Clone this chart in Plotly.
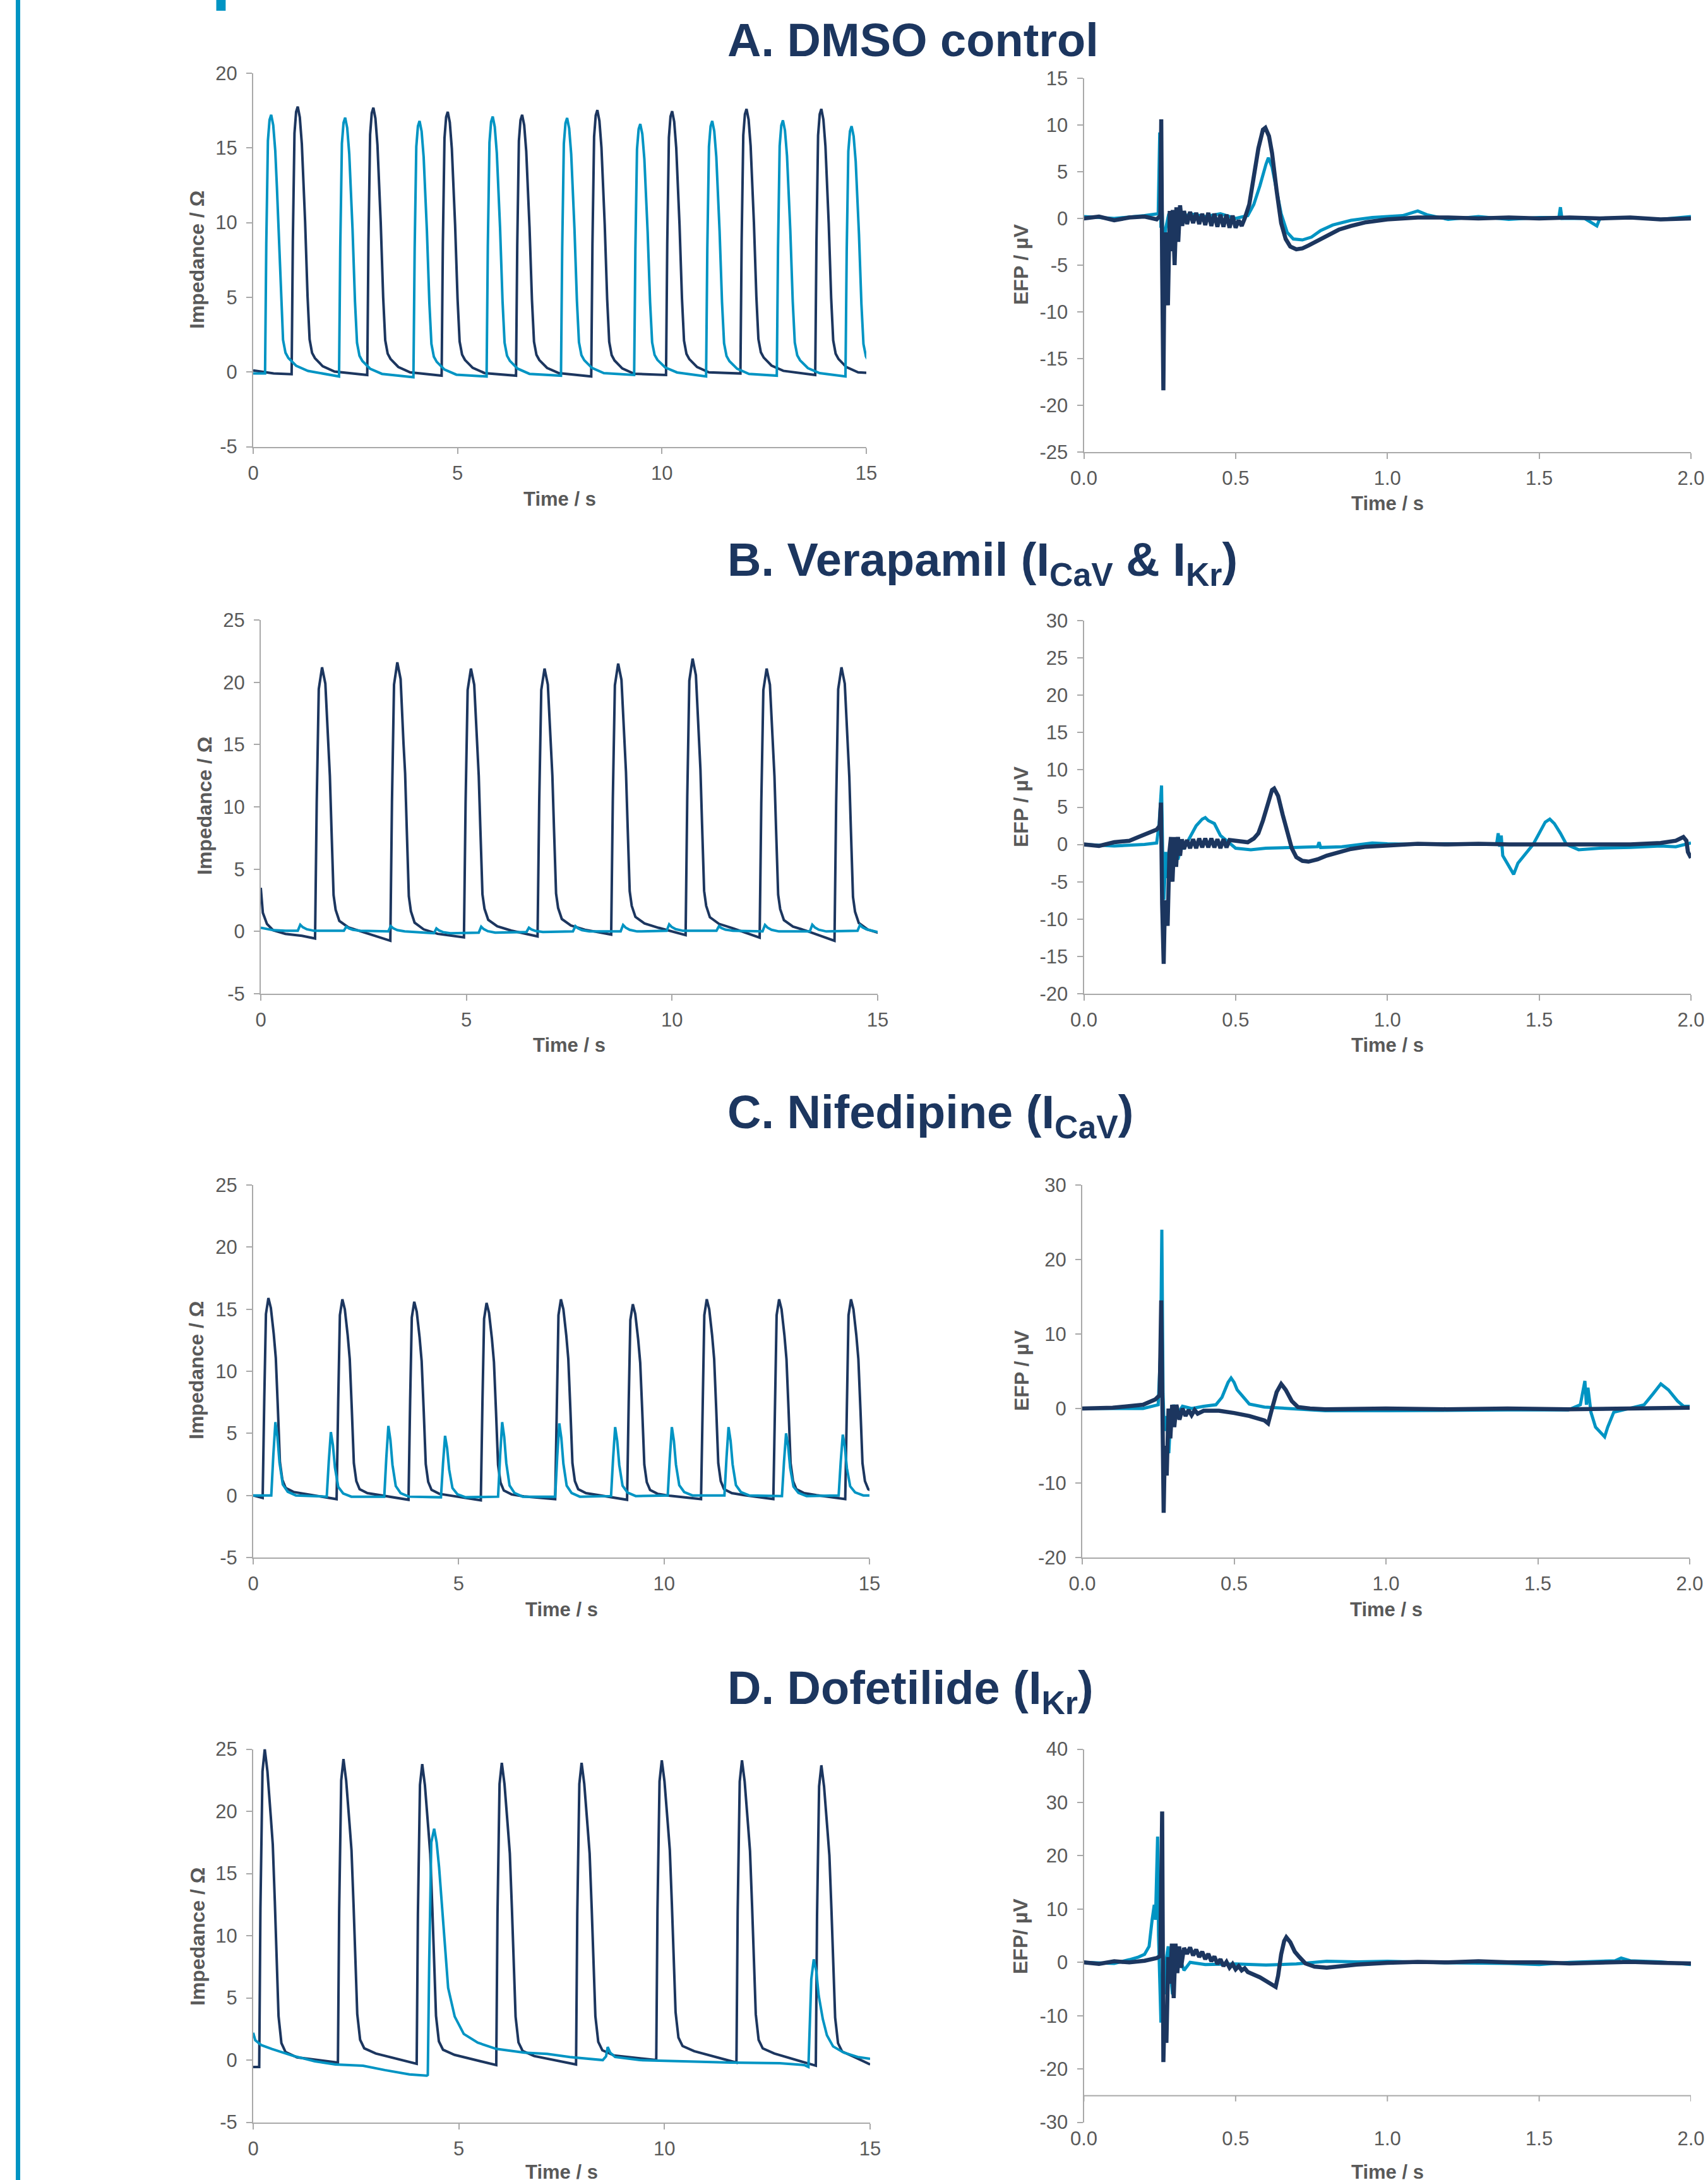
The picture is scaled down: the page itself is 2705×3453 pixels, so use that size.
import plotly.graph_objects as go

W, H = 2705, 3453
NAVY = "#1c365f"
CYAN = "#0094c3"
GREY = "#595959"
AXC = "#a9a9a9"
FONT = "Liberation Sans, Arial, sans-serif"

# ---------------- tick values / labels ----------------
imp_x_ticks = [0, 5, 10, 15]
imp_x_labels = ["0", "5", "10", "15"]
efp_x_ticks = [0, 0.5, 1.0, 1.5, 2.0]
efp_x_labels = ["0.0", "0.5", "1.0", "1.5", "2.0"]
a_imp_y_ticks = [-5, 0, 5, 10, 15, 20]
a_efp_y_ticks = [-25, -20, -15, -10, -5, 0, 5, 10, 15]
b_imp_y_ticks = [-5, 0, 5, 10, 15, 20, 25]
b_efp_y_ticks = [-20, -15, -10, -5, 0, 5, 10, 15, 20, 25, 30]
c_imp_y_ticks = [-5, 0, 5, 10, 15, 20, 25]
c_efp_y_ticks = [-20, -10, 0, 10, 20, 30]
d_imp_y_ticks = [-5, 0, 5, 10, 15, 20, 25]
d_efp_y_ticks = [-30, -20, -10, 0, 10, 20, 30, 40]
d_efp_xaxis_level = -25

# ---------------- panel A : DMSO impedance ----------------
a_beat_dt = [0, 0.03, 0.07, 0.11, 0.15, 0.20, 0.25, 0.29, 0.33, 0.39, 0.44, 0.50, 0.57, 0.76, 1.05]
a_beat_fr = [0, 0.50, 0.90, 0.98, 1.00, 0.96, 0.86, 0.72, 0.57, 0.29, 0.13, 0.08, 0.06, 0.03, 0.01]
a_dark_on = [0.94, 2.79, 4.61, 6.43, 8.27, 10.10, 11.92, 13.75]
a_dark_pk = [17.77, 17.69, 17.42, 17.22, 17.53, 17.46, 17.61, 17.61]
a_dark_pre = [-0.15, -0.2, -0.25, -0.25, -0.3, -0.2, -0.1, -0.2]
a_dark_lead = [(0, 0.1), (0.5, -0.1)]
a_dark_trail = [(15.0, -0.05)]
a_cyan_on = [0.29, 2.10, 3.92, 5.71, 7.53, 9.32, 11.08, 12.81, 14.49]
a_cyan_pk = [17.22, 17.03, 16.8, 17.1, 17.0, 16.6, 16.8, 16.85, 16.45]
a_cyan_pre = [-0.1, -0.3, -0.35, -0.3, -0.25, -0.2, -0.3, -0.25, -0.3]
a_cyan_lead = [(0, -0.1)]
a_cyan_trail = []

# ---------------- panel A : DMSO EFP ----------------
a_efp_cyan = [(0, 0.2), (0.1, 0.0), (0.2, 0.3), (0.245, 0.5), (0.25, 9.2), (0.254, -1.0), (0.258, 0.8),
              (0.262, -3.5), (0.27, -1.0), (0.28, 0.5), (0.29, -0.5), (0.3, 0.5), (0.32, 0.0), (0.35, 0.5),
              (0.4, 0.2), (0.45, 0.5), (0.5, 0.0), (0.54, 0.3), (0.56, 1.5), (0.58, 3.5), (0.6, 5.8),
              (0.608, 6.5), (0.62, 5.5), (0.635, 3.0), (0.65, 0.5), (0.67, -1.5), (0.69, -2.2), (0.72, -2.3),
              (0.75, -2.0), (0.78, -1.3), (0.82, -0.7), (0.88, -0.2), (0.95, 0.1), (1.05, 0.3), (1.1, 0.8),
              (1.13, 0.4), (1.2, -0.1), (1.3, 0.2), (1.4, -0.1), (1.5, 0.1), (1.565, 0.1), (1.57, 1.2),
              (1.575, 0.0), (1.65, 0.0), (1.69, -0.8), (1.7, 0.0), (1.8, 0.1), (1.9, -0.1), (2.0, 0.2)]
a_efp_dark = [(0, 0.0), (0.05, 0.2), (0.1, -0.2), (0.15, 0.1), (0.2, 0.2), (0.24, -0.1), (0.252, 0.3),
              (0.255, 10.6), (0.258, -5.0), (0.262, -18.4), (0.266, -3.0), (0.27, -1.5), (0.277, -9.3),
              (0.283, 0.8), (0.288, -3.5), (0.293, 0.9), (0.299, -5.0), (0.305, 1.2), (0.311, -2.5),
              (0.317, 1.4), (0.324, -0.8), (0.33, 0.8), (0.34, -0.6), (0.35, 0.7), (0.36, -0.5), (0.37, 0.6),
              (0.38, -0.6), (0.39, 0.5), (0.40, -0.7), (0.41, 0.6), (0.42, -0.8), (0.43, 0.5), (0.44, -0.9),
              (0.45, 0.4), (0.46, -0.9), (0.47, 0.4), (0.48, -1.0), (0.49, 0.3), (0.50, -1.0), (0.51, -0.2),
              (0.52, -0.8), (0.53, 0.0), (0.545, 1.5), (0.56, 4.5), (0.575, 7.5), (0.59, 9.5), (0.598, 9.7),
              (0.61, 8.8), (0.62, 7.0), (0.635, 3.0), (0.65, -0.5), (0.665, -2.2), (0.68, -3.0), (0.70, -3.3),
              (0.72, -3.2), (0.74, -2.9), (0.77, -2.4), (0.8, -1.9), (0.84, -1.2), (0.88, -0.8), (0.93, -0.4),
              (1.0, -0.1), (1.1, 0.1), (1.2, 0.1), (1.3, 0.0), (1.4, 0.1), (1.5, 0.0), (1.6, 0.1), (1.7, 0.0),
              (1.8, 0.1), (1.9, -0.1), (2.0, 0.0)]

# ---------------- panel B : Verapamil impedance ----------------
b_beat_dt = [0, 0.04, 0.09, 0.17, 0.25, 0.32, 0.36, 0.40, 0.45, 0.50, 0.59, 0.81, 1.15]
b_beat_fr = [0, 0.50, 0.92, 1.00, 0.94, 0.71, 0.60, 0.40, 0.16, 0.106, 0.065, 0.041, 0.025]
b_dark_on = [1.32, 3.15, 4.94, 6.73, 8.52, 10.33, 12.13, 13.95]
b_dark_pk = [21.2, 21.6, 21.1, 21.1, 21.5, 21.9, 21.1, 21.2]
b_dark_pre = [-0.57, -0.75, -0.47, -0.4, -0.25, -0.3, -0.5, -0.75]
b_dark_lead = [(0, 3.5), (0.05, 1.5), (0.15, 0.6), (0.3, 0.1), (0.6, -0.2), (1.0, -0.35)]
b_dark_trail = []
b_bump_dt = [0, 0.06, 0.12, 0.22, 0.40]
b_bump_fr = [0, 1.0, 0.6, 0.25, 0.0]
b_cyan_on = [0.90, 2.02, 3.10, 4.21, 5.30, 6.46, 7.59, 8.75, 9.87, 11.08, 12.20, 13.35, 14.51]
b_cyan_pk = [0.54, 0.38, 0.42, 0.24, 0.38, 0.30, 0.42, 0.52, 0.57, 0.42, 0.52, 0.54, 0.52]
b_cyan_pre = [0.05, 0.05, 0.0, -0.15, -0.1, -0.05, 0.0, 0.0, 0.05, 0.05, 0.0, 0.0, 0.05]
b_cyan_lead = [(0, 0.3), (0.3, 0.1), (0.6, 0.05)]
b_cyan_trail = [(15.0, -0.05)]

# ---------------- panel B : Verapamil EFP ----------------
b_efp_cyan = [(0, 0.0), (0.1, -0.2), (0.2, 0.0), (0.24, 0.2), (0.248, 2.8), (0.256, 7.9), (0.26, -2.0),
              (0.264, -7.4), (0.27, -1.0), (0.276, -4.5), (0.284, -0.5), (0.29, -3.0), (0.30, -1.0),
              (0.31, -2.0), (0.32, -0.5), (0.33, -0.5), (0.35, 1.0), (0.37, 2.5), (0.39, 3.4), (0.40, 3.6),
              (0.41, 3.2), (0.43, 2.8), (0.45, 1.2), (0.48, 0.2), (0.5, -0.5), (0.55, -0.7), (0.6, -0.5),
              (0.7, -0.4), (0.77, -0.3), (0.775, 0.3), (0.78, -0.4), (0.85, -0.3), (0.9, 0.0), (0.95, 0.2),
              (1.0, 0.1), (1.1, 0.0), (1.2, 0.1), (1.3, 0.0), (1.36, 0.1), (1.365, 1.5), (1.37, -0.3),
              (1.375, 1.2), (1.38, -1.5), (1.40, -3.0), (1.416, -4.0), (1.43, -2.5), (1.45, -1.5),
              (1.48, 0.0), (1.5, 1.5), (1.52, 3.0), (1.535, 3.4), (1.55, 2.8), (1.57, 1.5), (1.59, 0.0),
              (1.63, -0.7), (1.7, -0.5), (1.8, -0.4), (1.9, -0.2), (1.95, -0.3), (2.0, 0.2)]
b_efp_dark = [(0, 0.0), (0.05, -0.2), (0.1, 0.3), (0.15, 0.5), (0.18, 1.0), (0.21, 1.5), (0.24, 2.0),
              (0.25, 2.5), (0.254, 5.6), (0.258, -8.0), (0.263, -16.0), (0.267, -8.0), (0.27, -7.5),
              (0.276, -10.9), (0.282, -1.0), (0.287, 1.0), (0.292, -5.0), (0.298, 1.0), (0.304, -3.0),
              (0.31, 1.0), (0.317, -1.5), (0.323, 0.7), (0.33, -0.6), (0.34, 0.6), (0.35, -0.5), (0.36, 0.7),
              (0.37, -0.5), (0.38, 0.8), (0.39, -0.4), (0.40, 0.8), (0.41, -0.4), (0.42, 0.8), (0.43, -0.4),
              (0.44, 0.7), (0.45, -0.5), (0.46, 0.7), (0.47, -0.4), (0.48, 0.6), (0.50, 0.5), (0.52, 0.4),
              (0.54, 0.3), (0.56, 0.8), (0.575, 1.5), (0.59, 3.2), (0.605, 5.5), (0.62, 7.3), (0.627, 7.5),
              (0.64, 6.5), (0.655, 4.0), (0.67, 1.5), (0.685, -0.5), (0.70, -1.7), (0.72, -2.2), (0.74, -2.3),
              (0.77, -2.0), (0.80, -1.5), (0.84, -1.0), (0.88, -0.6), (0.93, -0.3), (1.0, -0.1), (1.1, 0.1),
              (1.2, 0.0), (1.3, 0.1), (1.4, 0.0), (1.5, 0.0), (1.6, -0.1), (1.7, 0.0), (1.8, 0.0), (1.9, 0.2),
              (1.95, 0.5), (1.975, 1.0), (1.985, 0.5), (1.99, -1.0), (2.0, -1.8)]

# ---------------- panel C : Nifedipine impedance ----------------
c_beat_dt = [0, 0.04, 0.08, 0.14, 0.20, 0.27, 0.32, 0.37, 0.42, 0.48, 0.56, 0.75, 1.05]
c_beat_fr = [0, 0.50, 0.92, 1.00, 0.95, 0.82, 0.70, 0.45, 0.18, 0.09, 0.05, 0.03, 0.02]
c_dark_on = [0.23, 2.03, 3.78, 5.54, 7.35, 9.10, 10.90, 12.66, 14.41]
c_dark_pk = [15.9, 15.8, 15.6, 15.5, 15.8, 15.4, 15.8, 15.8, 15.8]
c_dark_pre = [-0.2, -0.3, -0.35, -0.4, -0.3, -0.35, -0.3, -0.3, -0.3]
c_dark_lead = [(0, 0.0)]
c_dark_trail = []
c_spike_dt = [0, 0.05, 0.10, 0.15, 0.20, 0.28, 0.40, 0.60]
c_spike_fr = [0, 0.55, 1.0, 0.8, 0.45, 0.15, 0.05, 0.0]
c_cyan_on = [0.44, 1.79, 3.19, 4.57, 5.96, 7.35, 8.71, 10.09, 11.47, 12.87, 14.25]
c_cyan_pk = [5.9, 5.1, 5.6, 4.8, 5.9, 5.8, 5.5, 5.5, 5.5, 5.0, 4.9]
c_cyan_pre = [0.0, -0.1, -0.1, -0.15, -0.1, -0.1, -0.05, 0.0, 0.0, -0.05, 0.0]
c_cyan_lead = [(0, 0.0)]
c_cyan_trail = [(15.0, 0.0)]

# ---------------- panel C : Nifedipine EFP ----------------
c_efp_cyan = [(0, 0.0), (0.2, 0.0), (0.25, 0.5), (0.258, 8.0), (0.262, 24.0), (0.266, 2.0), (0.27, -3.0),
              (0.278, -1.0), (0.285, -6.0), (0.29, -2.0), (0.3, 0.5), (0.31, -1.0), (0.33, 0.3), (0.36, 0.0),
              (0.4, 0.3), (0.44, 0.5), (0.46, 1.5), (0.48, 3.5), (0.49, 4.1), (0.5, 3.5), (0.51, 2.5),
              (0.53, 1.5), (0.55, 0.6), (0.6, 0.2), (0.7, 0.0), (0.8, -0.3), (1.0, -0.3), (1.2, -0.2),
              (1.4, -0.2), (1.6, -0.2), (1.64, 0.5), (1.655, 3.7), (1.66, 0.5), (1.665, 2.8), (1.675, -0.5),
              (1.69, -2.5), (1.72, -3.8), (1.73, -2.5), (1.75, -0.5), (1.78, -0.2), (1.85, 0.5), (1.88, 2.0),
              (1.905, 3.3), (1.93, 2.5), (1.96, 1.0), (1.98, 0.3), (2.0, 0.3)]
c_efp_dark = [(0, 0.0), (0.1, 0.1), (0.2, 0.5), (0.24, 1.2), (0.255, 1.8), (0.26, 14.5), (0.264, 0.0),
              (0.268, -14.0), (0.272, -5.0), (0.278, -9.0), (0.284, 0.0), (0.29, -4.0), (0.296, 0.5),
              (0.303, -2.5), (0.31, 0.5), (0.32, -1.5), (0.33, 0.0), (0.34, -1.0), (0.35, -0.2), (0.36, -0.9),
              (0.37, -0.2), (0.38, -0.7), (0.4, -0.3), (0.45, -0.3),
              (0.5, -0.6), (0.55, -1.0), (0.6, -1.6), (0.612, -2.0), (0.625, 0.0), (0.64, 2.2), (0.655, 3.3),
              (0.67, 2.5), (0.69, 1.0), (0.71, 0.2), (0.75, 0.0), (0.8, -0.1), (1.0, 0.0), (1.2, -0.1),
              (1.4, 0.0), (1.6, -0.1), (1.8, 0.0), (2.0, 0.1)]

# ---------------- panel D : Dofetilide impedance ----------------
d_beat_dt = [0, 0.03, 0.08, 0.135, 0.20, 0.28, 0.33, 0.38, 0.43, 0.47, 0.54, 0.64, 0.92]
d_beat_fr = [0, 0.50, 0.93, 1.00, 0.93, 0.79, 0.70, 0.52, 0.34, 0.16, 0.075, 0.047, 0.03]
d_dark_on = [0.146, 2.06, 3.975, 5.91, 7.85, 9.80, 11.75, 13.68]
d_dark_pk = [25.0, 24.2, 23.8, 23.9, 23.9, 24.1, 24.1, 23.7]
d_dark_pre = [-0.55, -0.2, -0.3, -0.4, -0.35, 0.0, -0.2, -0.45]
d_dark_lead = [(0, -0.55)]
d_dark_trail = [(15.0, -0.35)]
d_cyan = [(0, 2.2), (0.05, 1.6), (0.2, 1.2), (0.45, 0.9), (0.96, 0.35), (1.5, -0.1), (2.0, -0.35),
          (2.67, -0.45), (3.2, -0.8), (3.8, -1.15), (4.22, -1.25), (4.245, -1.2), (4.28, 8.0), (4.33, 17.5),
          (4.40, 18.6), (4.46, 17.5), (4.52, 15.5), (4.63, 10.4), (4.74, 5.8), (4.9, 3.5), (5.12, 2.1),
          (5.46, 1.4), (5.91, 0.9), (6.59, 0.6), (7.15, 0.5), (7.7, 0.25), (8.27, 0.1), (8.5, 0.0),
          (8.58, 0.3), (8.62, 1.05), (8.68, 0.6), (8.8, 0.25), (9.4, 0.0), (10.5, -0.1), (11.6, -0.2),
          (12.8, -0.25), (13.4, -0.4), (13.5, -0.55), (13.53, 2.0), (13.57, 6.5), (13.63, 8.1),
          (13.69, 7.2), (13.75, 5.2), (13.85, 3.3), (13.95, 2.0), (14.1, 1.1), (14.36, 0.6), (14.7, 0.25),
          (15.0, 0.1)]

# ---------------- panel D : Dofetilide EFP ----------------
d_efp_cyan = [(0, 0.0), (0.1, -0.2), (0.15, 0.5), (0.18, 1.0), (0.2, 1.5), (0.215, 3.0), (0.225, 8.0),
              (0.232, 10.8), (0.236, 8.0), (0.24, 18.0), (0.243, 23.6), (0.246, 5.0), (0.25, -7.0),
              (0.254, -11.3), (0.258, -3.0), (0.265, -6.0), (0.27, 0.0), (0.278, 3.0), (0.285, -2.0),
              (0.292, -6.0), (0.298, 2.0), (0.305, -1.5), (0.315, 1.0), (0.33, -1.5), (0.35, 0.0),
              (0.4, -0.4), (0.5, -0.3), (0.6, -0.5), (0.7, -0.3), (0.8, 0.2), (0.9, 0.1), (1.0, 0.2),
              (1.2, -0.1), (1.4, -0.2), (1.5, -0.4), (1.6, 0.0), (1.75, 0.3), (1.77, 0.8), (1.8, 0.3),
              (1.9, 0.1), (2.0, -0.4)]
d_efp_dark = [(0, 0.0), (0.05, -0.3), (0.1, 0.2), (0.15, 0.0), (0.2, 0.3), (0.24, 0.8), (0.252, 1.2),
              (0.258, 28.3), (0.262, -18.7), (0.266, -9.0), (0.272, -15.1), (0.278, 1.0), (0.284, -4.0),
              (0.29, 3.5), (0.296, -6.7), (0.302, 3.5), (0.308, -2.0), (0.314, 3.0), (0.32, -1.0),
              (0.33, 2.7), (0.34, 1.6), (0.35, 2.8), (0.36, 1.3), (0.37, 2.4), (0.38, 1.0), (0.39, 2.0),
              (0.40, 0.6), (0.41, 1.6), (0.42, 0.2), (0.43, 1.1), (0.44, -0.3), (0.45, 0.6), (0.46, -0.7),
              (0.47, 0.1), (0.48, -1.0), (0.49, -0.3), (0.50, -1.3), (0.51, -0.7), (0.52, -1.5), (0.53, -1.1),
              (0.54, -1.8), (0.56, -2.2),
              (0.58, -2.8), (0.60, -3.5), (0.62, -4.2), (0.632, -4.6), (0.64, -2.5), (0.65, 1.5), (0.66, 4.0),
              (0.667, 4.7), (0.68, 3.8), (0.695, 2.0), (0.71, 1.0), (0.73, -0.2), (0.76, -0.8), (0.8, -1.0),
              (0.85, -0.7), (0.9, -0.4), (1.0, -0.1), (1.1, 0.1), (1.2, 0.0), (1.3, 0.2), (1.4, 0.0),
              (1.5, 0.0), (1.6, -0.2), (1.7, 0.0), (1.8, 0.1), (1.9, -0.1), (2.0, -0.2)]

# ---------------- text ----------------
header_text = "<b>Compound assessment</b>"
panel_titles = ["<b>A. DMSO control</b>",
                "<b>B. Verapamil (I<sub>CaV</sub> &amp; I<sub>Kr</sub>)</b>",
                "<b>C. Nifedipine (I<sub>CaV</sub>)</b>",
                "<b>D. Dofetilide (I<sub>Kr</sub>)</b>"]
imp_title = "<b>Impedance / Ω</b>"
efp_titles = ["<b>EFP / µV</b>", "<b>EFP / µV</b>", "<b>EFP / µV</b>", "<b>EFP/ µV</b>"]
time_title = "<b>Time / s</b>"


def beats(lead, onsets, peaks, pre, tdt, tfr, trail):
    xs = [p[0] for p in lead]
    ys = [p[1] for p in lead]
    for o, pk, b in zip(onsets, peaks, pre):
        for dt, f in zip(tdt, tfr):
            xs.append(o + dt)
            ys.append(b + f * (pk - b))
    xs += [p[0] for p in trail]
    ys += [p[1] for p in trail]
    return xs, ys


def unzip(pairs):
    return [p[0] for p in pairs], [p[1] for p in pairs]


# ---------------- layout geometry (pixels) ----------------
boxes = [
    (401, 1372, 116, 707.5), (1716.5, 2678, 124, 716),
    (413, 1390, 982, 1574), (1716.5, 2678, 983, 1574),
    (401, 1377, 1877, 2467), (1714, 2676, 1877, 2467),
    (401, 1378, 2770.5, 3361.6), (1716.5, 2678, 2770.5, 3361.6),
]
yranges = [[-5, 20], [-25, 15], [-5, 25], [-20, 30], [-5, 25], [-20, 30], [-5, 25], [-30, 40]]
yticks = [a_imp_y_ticks, a_efp_y_ticks, b_imp_y_ticks, b_efp_y_ticks,
          c_imp_y_ticks, c_efp_y_ticks, d_imp_y_ticks, d_efp_y_ticks]

fig = go.Figure()

IMP_W, EFP_DARK_W, EFP_CYAN_W = 4, 6.5, 5
series = []
series.append((1, beats(a_dark_lead, a_dark_on, a_dark_pk, a_dark_pre, a_beat_dt, a_beat_fr, a_dark_trail), NAVY, IMP_W))
series.append((1, beats(a_cyan_lead, a_cyan_on, a_cyan_pk, a_cyan_pre, a_beat_dt, a_beat_fr, a_cyan_trail), CYAN, IMP_W))
series.append((2, unzip(a_efp_cyan), CYAN, EFP_CYAN_W))
series.append((2, unzip(a_efp_dark), NAVY, EFP_DARK_W))
series.append((3, beats(b_dark_lead, b_dark_on, b_dark_pk, b_dark_pre, b_beat_dt, b_beat_fr, b_dark_trail), NAVY, IMP_W))
series.append((3, beats(b_cyan_lead, b_cyan_on, b_cyan_pk, b_cyan_pre, b_bump_dt, b_bump_fr, b_cyan_trail), CYAN, IMP_W))
series.append((4, unzip(b_efp_cyan), CYAN, EFP_CYAN_W))
series.append((4, unzip(b_efp_dark), NAVY, EFP_DARK_W))
series.append((5, beats(c_dark_lead, c_dark_on, c_dark_pk, c_dark_pre, c_beat_dt, c_beat_fr, c_dark_trail), NAVY, IMP_W))
series.append((5, beats(c_cyan_lead, c_cyan_on, c_cyan_pk, c_cyan_pre, c_spike_dt, c_spike_fr, c_cyan_trail), CYAN, IMP_W))
series.append((6, unzip(c_efp_cyan), CYAN, EFP_CYAN_W))
series.append((6, unzip(c_efp_dark), NAVY, EFP_DARK_W))
series.append((7, beats(d_dark_lead, d_dark_on, d_dark_pk, d_dark_pre, d_beat_dt, d_beat_fr, d_dark_trail), NAVY, IMP_W))
series.append((7, unzip(d_cyan), CYAN, IMP_W))
series.append((8, unzip(d_efp_cyan), CYAN, EFP_CYAN_W))
series.append((8, unzip(d_efp_dark), NAVY, EFP_DARK_W))

for idx, (xs, ys), col, lw in series:
    sfx = "" if idx == 1 else str(idx)
    fig.add_trace(go.Scatter(x=xs, y=ys, mode="lines", line=dict(color=col, width=lw),
                             xaxis="x" + sfx, yaxis="y" + sfx, showlegend=False, hoverinfo="skip"))

layout = dict(template="none", width=W, height=H, autosize=False,
              margin=dict(l=0, r=0, t=0, b=0, pad=0, autoexpand=False),
              paper_bgcolor="white", plot_bgcolor="white", showlegend=False,
              font=dict(family=FONT, color=GREY))

layout["title"] = dict(text=header_text, x=95 / W, xref="container", xanchor="left",
                       y=1.0, yref="container", yanchor="bottom", automargin=False,
                       pad=dict(b=5),
                       font=dict(family=FONT, size=108, color=CYAN))

tickfont = dict(family=FONT, size=31, color=GREY)
for i, (xl, xr, yt, yb) in enumerate(boxes, start=1):
    sfx = "" if i == 1 else str(i)
    efp = (i % 2 == 0)
    xt = efp_x_ticks if efp else imp_x_ticks
    xtl = efp_x_labels if efp else imp_x_labels
    special = (i == 8)
    layout["xaxis" + sfx] = dict(
        domain=[xl / W, xr / W], range=[0, 2] if efp else [0, 15], anchor="y" + sfx,
        tickmode="array", tickvals=xt, ticktext=xtl, automargin=False,
        showline=not special, linecolor=AXC, linewidth=2,
        ticks="" if special else "outside", ticklen=9, tickwidth=2, tickcolor=AXC,
        tickfont=tickfont, showgrid=False, zeroline=False, fixedrange=True,
        ticklabelstandoff=4)
    layout["yaxis" + sfx] = dict(
        domain=[1 - yb / H, 1 - yt / H], range=yranges[i - 1], anchor="x" + sfx,
        tickmode="array", tickvals=yticks[i - 1], ticktext=[str(v) for v in yticks[i - 1]],
        automargin=False,
        showline=True, linecolor=AXC, linewidth=2,
        ticks="outside", ticklen=9, tickwidth=2, tickcolor=AXC,
        tickfont=tickfont, showgrid=False, zeroline=False, fixedrange=True,
        ticklabelstandoff=8)

shapes = []
shapes.append(dict(type="rect", xref="paper", yref="paper", x0=25 / W, x1=32 / W, y0=0, y1=1,
                   fillcolor=CYAN, line=dict(width=0), layer="above"))
shapes.append(dict(type="line", xref="x8", yref="y8", x0=0, x1=2, y0=d_efp_xaxis_level,
                   y1=d_efp_xaxis_level, line=dict(color=AXC, width=2)))
for tv in efp_x_ticks:
    shapes.append(dict(type="line", xref="x8", yref="y8", ysizemode="pixel", yanchor=d_efp_xaxis_level,
                       x0=tv, x1=tv, y0=0, y1=-9, line=dict(color=AXC, width=2)))
layout["shapes"] = shapes

ann = []
title_tops = [20, 843, 1718, 2630]
for t, top in zip(panel_titles, title_tops):
    ann.append(dict(text=t, xref="paper", yref="paper", x=1150 / W, y=1 - top / H,
                    xanchor="left", yanchor="top", showarrow=False,
                    font=dict(family=FONT, size=74, color=NAVY)))
ytitle_pos = [(312, 411), (1617, 419), (324, 1276), (1617, 1278),
              (311, 2170), (1618, 2170), (313, 3067), (1616, 3067)]
time_y = [790, 797, 1655, 1655, 2549, 2549, 3440, 3440]
for i, ((cx, cy), ty) in enumerate(zip(ytitle_pos, time_y)):
    efp = (i % 2 == 1)
    txt = efp_titles[i // 2] if efp else imp_title
    ann.append(dict(text=txt, xref="paper", yref="paper", x=cx / W, y=1 - cy / H,
                    xanchor="center", yanchor="middle", textangle=-90, showarrow=False,
                    font=dict(family=FONT, size=32, color=GREY)))
    xl, xr = boxes[i][0], boxes[i][1]
    ann.append(dict(text=time_title, xref="paper", yref="paper", x=(xl + xr) / 2 / W, y=1 - ty / H,
                    xanchor="center", yanchor="middle", showarrow=False,
                    font=dict(family=FONT, size=31, color=GREY)))
layout["annotations"] = ann

fig.update_layout(**layout)
fig.write_html("out.html", config={"displayModeBar": False, "staticPlot": True},
               post_script="document.body.style.margin='0px';document.body.style.overflow='hidden';")
